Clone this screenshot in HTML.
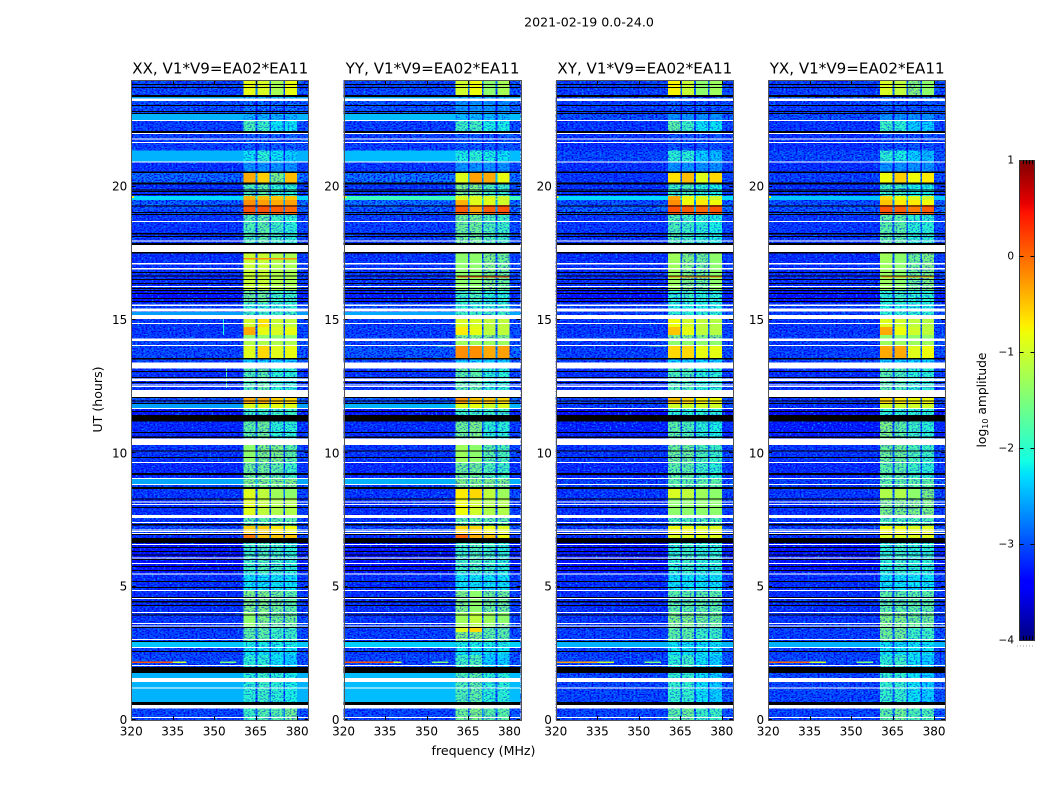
<!DOCTYPE html>
<html>
<head>
<meta charset="utf-8">
<title>2021-02-19 amplitude waterfall</title>
<style>
html,body{margin:0;padding:0;background:#fff;}
#chart{display:block;width:1050px;height:800px;}
text{font-family:"DejaVu Sans","Liberation Sans",sans-serif;fill:#000;}
</style>
</head>
<body>
<svg id="chart" width="1050" height="800" viewBox="0 0 1050 800" xmlns="http://www.w3.org/2000/svg">
<defs>
<filter id="speckle-light" x="0" y="0" width="100%" height="100%" color-interpolation-filters="sRGB">
<feTurbulence type="fractalNoise" baseFrequency="0.5 0.65" numOctaves="1" seed="4"/>
<feColorMatrix type="matrix" values="0 0 0 0 0  0 0 0 0 0.55  0 0 0 0 1  4.5 0 0 0 -2.25"/>
</filter>
<filter id="speckle-dark" x="0" y="0" width="100%" height="100%" color-interpolation-filters="sRGB">
<feTurbulence type="fractalNoise" baseFrequency="0.5 0.7" numOctaves="1" seed="11"/>
<feColorMatrix type="matrix" values="0 0 0 0 0  0 0 0 0 0  0 0 0 0 0.95  4 0 0 0 -1.8"/>
</filter>
</defs>
<g id="layer"></g>
</svg>
<script>
var panelTitles = ['XX','YY','XY','YX'];
var xTicks = [320,335,350,365,380];
var yTicks = [0,5,10,15,20];
var colorbarTicks = [1,0,-1,-2,-3,-4];
var freqEdges = [320,360.5,365,365.6,370,370.6,375,375.6,380,384];
var bandTop = [24,23.44,23.22,22.73,22.46,22.09,21.35,20.93,20.52,20.14,19.65,19.5,19.32,18.98,17.51,16.13,15.64,15.3,15.04,14.74,14.44,14.22,14.06,13.58,13.2,12.11,11.85,11.66,11.21,10.31,9.68,9.08,8.81,8.7,8.33,7.58,7.28,7.01,6.83,6.64,5.51,4.88,4.05,3.64,3.49,2.93,2.7,2.44,1.99,1.76,0.68,0.45];
var backgroundXX = [-2.95,-2.55,-2.9,-2.5,-3,-3,-2.5,-3.1,-2.75,-3.1,-2.3,-2.8,-2.9,-3.05,-3.1,-3.3,-3,-2.6,-3.05,-3.05,-3,-2.95,-2.95,-3,-3.1,-2.9,-2.6,-3.3,-3.15,-3.05,-3.15,-2.55,-2.95,-3.05,-3.1,-3.05,-2.95,-3.1,-3.1,-3.3,-3.1,-3.1,-3.05,-3.05,-3,-2.4,-3,-2.95,-3,-2.5,-3,-2.95];
var backgroundYY = [-2.95,-2.55,-2.85,-2.45,-3,-3,-2.45,-3.05,-2.7,-3.05,-1.9,-2.7,-2.85,-3,-3.05,-3.2,-2.9,-2.55,-3,-3,-3,-2.95,-2.85,-3,-3.05,-2.85,-2.5,-3.3,-3.1,-3.05,-3.15,-2.5,-2.95,-3.05,-3.1,-3.05,-2.95,-3.1,-3.1,-3.3,-3.1,-3.1,-3.05,-3.05,-3,-2.35,-3,-2.95,-3,-2.45,-3,-2.95];
var backgroundXY = [-3,-2.85,-3,-2.9,-3.05,-3.1,-2.95,-3.1,-3.05,-3.1,-2.3,-2.9,-2.8,-3.05,-3.1,-3.3,-3,-3,-3.05,-3.05,-3,-3,-3,-3,-3.1,-3,-3,-3.4,-3.2,-3.05,-3.15,-3,-3,-3.05,-3.1,-3.05,-3,-3.1,-3.1,-3.3,-3.1,-3.1,-3.05,-3.05,-3,-2.5,-3,-2.95,-3,-2.95,-3,-2.95];
var backgroundYX = [-3,-2.8,-3,-2.9,-3.05,-3.1,-2.95,-3.1,-3,-3.1,-2.4,-2.9,-2.85,-3.05,-3.1,-3.3,-3,-3,-3.05,-3.05,-3,-3,-3,-3,-3.1,-3.05,-3.1,-3.5,-3.25,-3.05,-3.15,-3,-3,-3.05,-3.1,-3.05,-3,-3.1,-3.1,-3.3,-3.1,-3.1,-3.05,-3.05,-3,-2.5,-3,-2.95,-3,-2.95,-3,-2.95];
var subbandXX = [[-.85,-.95,-1.25,-.85],[-2.45,-2.45,-2.45,-2.45],[-2.7,-2.7,-2.7,-2.7],[-2.45,-2.45,-2.45,-2.45],[-1.8,-1.9,-2.2,-2.2],[-2.8,-2.8,-2.8,-2.8],[-2.2,-2,-2.2,-2.3],[-2.6,-2.6,-2.6,-2.6],[-.35,-.55,-1.5,-.45],[-1.8,-1.7,-2,-2],[-.4,-.45,-.5,-.5],[-.2,-.3,-.35,-.3],[.1,.1,.05,0],[-1.8,-1.7,-1.9,-2],[-1.05,-1.05,-1.2,-1.25],[-1.6,-1.6,-1.9,-1.9],[-2,-2,-2,-2],[-1.9,-1.9,-1.9,-1.9],[-1,-.65,-1.05,-1.1],[-.35,-.85,-.95,-.85],[-1.4,-1.4,-1.4,-1.4],[-1.2,-1.2,-1.2,-1.2],[-.9,-.6,-.9,-.85],[-2.3,-2.3,-2.3,-2.3],[-1.8,-1.7,-2,-2],[-.35,-.35,-.55,-.6],[-.9,-.9,-.85,-.9],[-1.9,-1.9,-1.9,-1.9],[-1.7,-1.6,-2,-2],[-1.4,-1.5,-1.5,-1.7],[-1.6,-1.6,-1.7,-1.9],[-1.5,-1.5,-1.5,-1.5],[-1.5,-1.5,-1.5,-1.5],[-.9,-1.1,-1.3,-1.4],[-.9,-1.1,-1.2,-1.2],[-1.7,-1.7,-1.7,-1.7],[-.55,-.55,-.7,-.8],[-.1,-.5,-.5,-.5],[-.9,-.9,-.9,-.9],[-1.9,-1.8,-1.9,-2],[-2.2,-2.2,-2.2,-2.2],[-1.5,-1.5,-1.6,-1.7],[-1.4,-1.5,-1.6,-1.6],[-1.4,-1.5,-1.6,-1.6],[-1.7,-1.7,-1.9,-1.9],[-2.1,-2.1,-2.1,-2.1],[-2.2,-2.2,-2.2,-2.2],[-2,-2,-2.2,-2.3],[-2,-2,-2,-2],[-2,-1.9,-2,-2.1],[-2,-2,-2,-2],[-1.9,-1.75,-1.75,-1.6]];
var subbandYY = [[-1,-.8,-1.4,-1.25],[-2.45,-2.45,-2.45,-2.45],[-2.6,-2.6,-2.6,-2.6],[-2.4,-2.4,-2.4,-2.4],[-1.9,-1.85,-2.1,-2.1],[-2.8,-2.8,-2.8,-2.8],[-2.1,-2,-2.1,-2.2],[-2.6,-2.6,-2.6,-2.6],[-.9,-.3,-.35,-.85],[-1.5,-1.5,-1.8,-1.9],[-.9,-.9,-.9,-1],[-.4,-.9,-.9,-1],[.05,-.3,.05,.1],[-1.6,-1.6,-1.8,-1.9],[-1.4,-1.4,-1.5,-1.6],[-1.9,-1.8,-2,-2],[-2,-2,-2,-2],[-1.9,-1.9,-1.9,-1.9],[-.95,-.95,-1.1,-1.1],[-.7,-.85,-1.1,-1.1],[-1.5,-1.5,-1.5,-1.5],[-1.3,-1.3,-1.3,-1.3],[-.2,-.2,-.35,-.3],[-2.3,-2.3,-2.3,-2.3],[-1.7,-1.7,-2,-2],[-.25,-.5,-.5,-.6],[-.9,-.85,-1,-.9],[-1.9,-1.9,-1.9,-1.9],[-1.6,-1.5,-2,-2],[-1.3,-1.4,-1.7,-1.8],[-1.6,-1.6,-1.8,-1.9],[-1.5,-1.5,-1.5,-1.5],[-1.5,-1.5,-1.5,-1.5],[-.7,-.6,-1.1,-1.3],[-.8,-1,-1.2,-1.2],[-1.7,-1.7,-1.7,-1.7],[-.6,-.6,-.8,-.9],[0,-.4,-.5,-.8],[-.9,-.9,-.9,-.9],[-1.9,-1.8,-1.9,-2],[-2.2,-2.2,-2.2,-2.2],[-1.5,-1.4,-1.6,-1.6],[-1.3,-1.1,-1.3,-1.4],[-1.3,-1.2,-1.4,-1.5],[-1.5,-1.5,-1.7,-1.7],[-2.1,-2.1,-2.1,-2.1],[-2.2,-2.2,-2.2,-2.2],[-1.9,-1.8,-2.3,-2.3],[-2,-2,-2,-2],[-1.8,-1.7,-2,-2],[-2,-2,-2,-2],[-1.6,-1.5,-1.7,-1.7]];
var subbandXY = [[-.75,-1.05,-1.4,-1.3],[-2.7,-2.7,-2.7,-2.7],[-2.8,-2.8,-2.8,-2.8],[-2.6,-2.6,-2.6,-2.6],[-1.7,-1.9,-2.2,-2.2],[-2.85,-2.85,-2.85,-2.85],[-2,-2,-2.3,-2.4],[-2.6,-2.6,-2.6,-2.6],[-.65,-.45,-.9,-.6],[-1.9,-1.8,-2,-2.1],[-.35,-.8,-.9,-1],[-.2,-.8,-.7,-.8],[.12,.05,0,.1],[-1.8,-1.9,-2,-2.1],[-1.3,-1.5,-1.6,-1.4],[-2,-1.9,-2,-2],[-2.1,-2.1,-2.1,-2.1],[-2,-2,-2,-2],[-.8,-1,-1.1,-1.15],[-.5,-.85,-1.1,-1.15],[-1.5,-1.5,-1.5,-1.5],[-1.4,-1.4,-1.4,-1.4],[-.6,-.6,-.85,-.85],[-2.3,-2.3,-2.3,-2.3],[-1.8,-1.8,-2,-2],[-.5,-.6,-.75,-.8],[-1,-1,-1,-1],[-2,-2,-2,-2],[-1.7,-1.8,-2,-2.1],[-1.6,-1.6,-1.8,-1.9],[-1.7,-1.7,-1.9,-2],[-1.7,-1.7,-1.7,-1.7],[-1.7,-1.7,-1.7,-1.7],[-.95,-1.1,-1.3,-1.4],[-1.4,-1.4,-1.4,-1.4],[-1.8,-1.8,-1.8,-1.8],[-.8,-.8,-.9,-.9],[-.9,-.9,-.9,-.9],[-1,-1,-1,-1],[-2,-1.9,-2,-2],[-2.2,-2.2,-2.2,-2.2],[-1.7,-1.7,-1.7,-1.7],[-1.5,-1.5,-1.6,-1.6],[-1.5,-1.5,-1.6,-1.6],[-1.7,-1.7,-1.9,-1.9],[-2.2,-2.2,-2.2,-2.2],[-2.2,-2.2,-2.2,-2.2],[-2,-1.9,-2.2,-2.3],[-2,-2,-2,-2],[-1.95,-1.95,-2.2,-2.3],[-2,-2,-2,-2],[-1.7,-1.6,-1.9,-1.9]];
var subbandYX = [[-.95,-1.1,-1.45,-1.4],[-2.7,-2.7,-2.7,-2.7],[-2.8,-2.8,-2.8,-2.8],[-2.6,-2.6,-2.6,-2.6],[-1.9,-2,-2.3,-2.3],[-2.85,-2.85,-2.85,-2.85],[-2,-2.1,-2.3,-2.4],[-2.6,-2.6,-2.6,-2.6],[-.8,-.55,-.8,-.7],[-1.9,-1.9,-2.1,-2.1],[-.6,-.8,-.9,-1],[-.5,-.7,-.7,-.8],[.1,.05,-.1,.05],[-1.7,-1.7,-2,-2],[-1.3,-1.4,-1.6,-1.5],[-2,-1.9,-2,-2],[-2.1,-2.1,-2.1,-2.1],[-2,-2,-2,-2],[-.9,-1,-1.1,-1.15],[-.35,-.8,-1,-1.1],[-1.4,-1.4,-1.4,-1.4],[-1.3,-1.3,-1.3,-1.3],[-.35,-.35,-.9,-.8],[-2.3,-2.3,-2.3,-2.3],[-1.7,-1.8,-2,-2],[-.6,-.7,-.8,-.8],[-1,-1,-1,-1],[-2,-2,-2,-2],[-1.5,-1.7,-1.9,-2],[-1.6,-1.6,-1.8,-1.9],[-1.7,-1.7,-1.9,-2],[-1.7,-1.7,-1.7,-1.7],[-1.7,-1.7,-1.7,-1.7],[-1.2,-1.2,-1.4,-1.5],[-1.5,-1.5,-1.5,-1.5],[-1.8,-1.8,-1.8,-1.8],[-.8,-.8,-.9,-.9],[-.9,-.9,-.9,-.9],[-1,-1,-1,-1],[-2,-1.9,-2,-2],[-2.2,-2.2,-2.2,-2.2],[-1.7,-1.7,-1.7,-1.7],[-1.5,-1.5,-1.6,-1.6],[-1.5,-1.5,-1.6,-1.6],[-1.6,-1.6,-1.9,-1.9],[-2.2,-2.2,-2.2,-2.2],[-2.2,-2.2,-2.2,-2.2],[-2,-1.9,-2.2,-2.3],[-2,-2,-2,-2],[-1.95,-1.95,-2.2,-2.3],[-2,-2,-2,-2],[-1.7,-1.6,-1.8,-1.8]];
var whiteFlagLow = [23.22,22.46,21.99,21.77,21.64,20.9,18.68,17.96,17.55,17.08,16.89,16.24,15.53,15.31,15.04,14.85,14.22,14.04,13.19,12.72,12.56,12.49,12.12,11.66,10.31,9.64,9.04,8.81,8.15,8.06,7.58,7.39,7.11,7.05,6.99,6.56,6.06,5.85,5.45,4.84,4.54,4.01,3.6,3.51,3,2.7,2.03,1.43,1.2,0.44,0.08];
var whiteFlagHigh = [23.3,22.5,22.02,21.8,21.68,20.94,18.71,17.99,17.81,17.14,16.95,16.28,15.59,15.44,15.19,14.89,14.31,14.06,13.4,12.81,12.59,12.53,12.38,11.7,10.56,9.68,9.08,8.85,8.19,8.1,7.69,7.43,7.14,7.09,7.01,6.6,6.09,5.89,5.49,4.88,4.58,4.05,3.64,3.54,3.04,2.74,2.06,1.58,1.22,0.56,0.11];
var blackFlagLow = [23.81,23.7,23.37,23.05,22.8,22.73,22.02,20.52,20.09,19.88,19.8,19.69,19.28,19.01,18.93,18.21,18.11,17.81,17.49,16.76,16.63,16.5,16.35,16.16,16.09,15.98,15.79,15.68,13.52,13.05,12.83,12.64,12.08,11.96,11.85,11.55,11.19,10.76,10.58,10.09,9.83,9.18,8.66,8.26,7.95,7.29,6.96,6.64,6.45,6.3,6.19,6,5.74,5.59,5.18,4.97,4.58,4.41,4.28,3.92,3.45,2.93,2.55,1.76,0.56];
var blackFlagHigh = [23.85,23.74,23.44,23.07,22.84,22.76,22.09,20.56,20.15,19.89,19.84,19.73,19.3,19.05,18.98,18.26,18.15,17.89,17.55,16.8,16.67,16.54,16.39,16.2,16.13,16.01,15.83,15.71,13.58,13.09,12.86,12.68,12.11,11.98,11.89,11.59,11.44,10.8,10.63,10.11,9.86,9.26,8.74,8.31,7.99,7.35,6.98,6.83,6.49,6.34,6.21,6.04,5.78,5.63,5.21,4.99,4.61,4.46,4.31,3.96,3.49,2.96,2.59,1.99,0.68];
var rfiPanel = [0,0,1,1,2,2,3,3,0,1,2,3,0,0,0,1,2,3,0,1,2,3,1,2,1,1];
var rfiHourLow = [2.14,2.14,2.14,2.14,2.14,2.14,2.14,2.14,2.14,2.14,2.14,2.14,12.45,19.58,17.27,19.58,19.58,19.58,14.44,16.6,16.6,16.6,14.0,14.0,3.3,3.3];
var rfiHourHigh = [2.19,2.19,2.19,2.19,2.19,2.19,2.19,2.19,2.19,2.19,2.19,2.19,13.2,19.65,17.32,19.65,19.65,19.65,15.04,16.65,16.65,16.65,14.04,14.04,3.49,3.49];
var rfiFreqLow = [320,335,320.5,338,320,335,320,335,352,352,352,352,354.3,320,360.5,320,320,320,353.2,361,361,361,354,354,360.5,365.6];
var rfiFreqHigh = [335,340,338,341,335,341,338,341,358,358,358,358,354.7,321,380,321,321,321,353.6,380,380,380,360,360,365,370];
var rfiLevel = [.1,-1,.1,-1,-.3,-1,0,-1,-1.5,-1.5,-1.5,-1.5,-1.8,-.7,-.2,-.7,-.7,-.7,-2.1,.1,-.2,-.3,-1.6,-1.6,-.9,-.6];
var panelBackgrounds = [backgroundXX, backgroundYY, backgroundXY, backgroundYX];
var panelSubbands = [subbandXX, subbandYY, subbandXY, subbandYX];

var SVGNS = 'http://www.w3.org/2000/svg';
var layer = document.getElementById('layer');
var panelWidth = 177, panelStep = 212.3, panelLeft0 = 131.25, plotTop = 80, plotBottom = 720;
function panelLeft(i){ return panelLeft0 + i * panelStep; }
function xScale(i, f){ return panelLeft(i) + (f - 320) / 64 * panelWidth; }
function yScale(h){ return plotBottom - h / 24 * (plotBottom - plotTop); }
function colorScale(v){ return 640 - (v + 4) / 5 * 480; }
function ramp(x){ return Math.max(0, Math.min(1, x)); }
function interp(t, stops){
  for (var i = 1; i < stops.length; i++) {
    if (t <= stops[i][0]) {
      var a = stops[i - 1], b = stops[i];
      return a[1] + (b[1] - a[1]) * (t - a[0]) / (b[0] - a[0]);
    }
  }
  return stops[stops.length - 1][1];
}
var jetRed = [[0,0],[.35,0],[.66,1],[.89,1],[1,.5]];
var jetGreen = [[0,0],[.125,0],[.375,1],[.64,1],[.91,0],[1,0]];
var jetBlue = [[0,.5],[.11,1],[.34,1],[.65,0],[1,0]];
function jet(v){
  var t = ramp((v + 4) / 5);
  return 'rgb(' + Math.round(interp(t, jetRed) * 255) + ',' + Math.round(interp(t, jetGreen) * 255) + ',' + Math.round(interp(t, jetBlue) * 255) + ')';
}
function addRect(parent, x, y, w, h, fill, name){
  var el = document.createElementNS(SVGNS, 'rect');
  el.setAttribute('x', x);
  el.setAttribute('y', y);
  el.setAttribute('width', w);
  el.setAttribute('height', h);
  el.setAttribute('fill', fill);
  el.setAttribute('shape-rendering', 'crispEdges');
  
  
  parent.appendChild(el);
  return el;
}
function addLine(parent, x1, y1, x2, y2, stroke, name){
  var el = document.createElementNS(SVGNS, 'line');
  el.setAttribute('x1', x1);
  el.setAttribute('y1', y1);
  el.setAttribute('x2', x2);
  el.setAttribute('y2', y2);
  el.setAttribute('stroke', stroke);
  el.setAttribute('stroke-width', '1');
  el.setAttribute('shape-rendering', 'crispEdges');
  
  
  parent.appendChild(el);
  return el;
}
function addText(parent, x, y, str, size, anchor, name, rotate){
  var el = document.createElementNS(SVGNS, 'text');
  el.setAttribute('x', x);
  el.setAttribute('y', y);
  el.setAttribute('font-size', size);
  el.setAttribute('text-anchor', anchor);
  if (rotate) { el.setAttribute('transform', 'rotate(-90 ' + x + ' ' + y + ')'); }
  el.textContent = str;
  
  
  parent.appendChild(el);
  return el;
}
function addGroup(parent, name){
  var el = document.createElementNS(SVGNS, 'g');
  
  
  parent.appendChild(el);
  return el;
}
function bandSegmentLevel(p, b, s){
  var bg = panelBackgrounds[p][b];
  var sb = panelSubbands[p][b];
  if (s === 0) { return bg; }
  if (s === 8) { return bg < -2.7 ? bg + 0.1 : bg; }
  if (s % 2 === 1) { return sb[(s - 1) / 2]; }
  return Math.min(bg + 0.3, sb[s / 2 - 1] - 0.8);
}
function addSpeckle(parent, x0, name, filterId, opacity){
  var el = addRect(parent, x0, plotTop, panelWidth, plotBottom - plotTop, '#000', name);
  el.setAttribute('filter', 'url(#' + filterId + ')');
  el.setAttribute('opacity', opacity);
  return el;
}
function drawPanel(p){
  var g = addGroup(layer, 'panel-' + panelTitles[p].toLowerCase());
  var x0 = panelLeft(p);
  var low = addGroup(g, 'heatmap-low-cells');
  var speckleLow = addGroup(g, 'heatmap-texture-low');
  var mid = addGroup(g, 'heatmap-mid-cells');
  var speckleMid = addGroup(g, 'heatmap-texture-mid');
  var high = addGroup(g, 'heatmap-high-cells');
  var marks = addGroup(g, 'rfi-marks');
  var flags = addGroup(g, 'flagged-rows');
  for (var b = 0; b < bandTop.length; b++) {
    var yTop = yScale(bandTop[b]);
    var yBot = yScale(b + 1 < bandTop.length ? bandTop[b + 1] : 0);
    for (var s = 0; s < freqEdges.length - 1; s++) {
      var level = bandSegmentLevel(p, b, s);
      var xa = xScale(p, freqEdges[s]);
      var xb = xScale(p, freqEdges[s + 1]);
      var isEdgeSegment = (s === 0 || s === 8);
      var target = low;
      if (level > -1.45 || (isEdgeSegment && level > -2.65)) { target = high; }
      else if (level > -2.65) { target = mid; }
      addRect(target, xa, yTop, xb - xa, yBot - yTop, jet(level), 'heatmap-cell');
    }
  }
  addSpeckle(speckleLow, x0, 'speckle-light', 'speckle-light', 1);
  addSpeckle(speckleLow, x0, 'speckle-dark', 'speckle-dark', 1);
  addSpeckle(speckleMid, x0, 'speckle-mid', 'speckle-dark', 0.55);
  for (var r = 0; r < rfiPanel.length; r++) {
    if (rfiPanel[r] !== p) { continue; }
    var rx = xScale(p, rfiFreqLow[r]);
    var ry = yScale(rfiHourHigh[r]);
    addRect(marks, rx, ry, Math.max(1, xScale(p, rfiFreqHigh[r]) - rx), Math.max(1, yScale(rfiHourLow[r]) - ry), jet(rfiLevel[r]), 'rfi-mark');
  }
  for (var k = 0; k < blackFlagLow.length; k++) {
    var ky = yScale(blackFlagHigh[k]);
    addRect(flags, x0, ky, panelWidth, Math.max(1, yScale(blackFlagLow[k]) - ky), '#000', 'black-flag-row');
  }
  for (var w = 0; w < whiteFlagLow.length; w++) {
    var wy = yScale(whiteFlagHigh[w]);
    addRect(flags, x0, wy, panelWidth, Math.max(1, yScale(whiteFlagLow[w]) - wy), '#fff', 'white-flag-row');
  }
  var axes = addGroup(g, 'panel-axes');
  for (var i = 0; i < xTicks.length; i++) {
    var tx = Math.round(xScale(p, xTicks[i])) + 0.5;
    addLine(axes, tx, plotBottom, tx, plotBottom - 4, '#000', 'x-tick');
    addLine(axes, tx, plotTop, tx, plotTop + 4, '#000', 'x-tick');
    addText(axes, xScale(p, xTicks[i]), plotBottom + 15.5, String(xTicks[i]), 12, 'middle', 'x-tick-label');
  }
  for (var j = 0; j < yTicks.length; j++) {
    var ty = Math.round(yScale(yTicks[j])) - 0.5;
    addLine(axes, x0, ty, x0 + 4, ty, '#000', 'y-tick');
    addLine(axes, x0 + panelWidth, ty, x0 + panelWidth - 4, ty, '#000', 'y-tick');
    addText(axes, x0 - 4, yScale(yTicks[j]) + 4, String(yTicks[j]), 12, 'end', 'y-tick-label');
  }
  var frame = addRect(axes, Math.round(x0) + 0.5, plotTop + 0.5, panelWidth, plotBottom - plotTop, 'none', 'panel-frame');
  frame.setAttribute('stroke', '#555');
  addText(g, x0 + panelWidth / 2 + 0.5, 73.5, panelTitles[p] + ', V1*V9=EA02*EA11', 15.1, 'middle', 'panel-title');
}
for (var p = 0; p < panelTitles.length; p++) { drawPanel(p); }

addText(layer, 589, 26.5, '2021-02-19 0.0-24.0', 12.6, 'middle', 'figure-title');
addText(layer, 483.5, 755, 'frequency (MHz)', 12.6, 'middle', 'x-axis-title');
addText(layer, 102, 399.5, 'UT (hours)', 12.6, 'middle', 'y-axis-title', true);

var cbar = addGroup(layer, 'colorbar');
var cbarLeft = 1019.5, cbarWidth = 15;
for (var cy = 160; cy < 640; cy++) {
  addRect(cbar, cbarLeft, cy, cbarWidth, 1, jet(1 - (cy - 160) / 480 * 5), 'colorbar-step');
}
var cbarFrame = addRect(cbar, cbarLeft, 160.5, cbarWidth, 480, 'none', 'colorbar-frame');
cbarFrame.setAttribute('stroke', '#333');
for (var c = 0; c < colorbarTicks.length; c++) {
  var cv = colorbarTicks[c];
  var cpy = colorScale(cv);
  if (cv > -4 && cv < 1) {
    addLine(cbar, cbarLeft, cpy + 0.5, cbarLeft + 4, cpy + 0.5, '#000', 'colorbar-tick');
    addLine(cbar, cbarLeft + cbarWidth, cpy + 0.5, cbarLeft + cbarWidth - 4, cpy + 0.5, '#000', 'colorbar-tick');
  } else {
    for (var m = 1; m < 5; m++) {
      var mx = Math.round(cbarLeft + m * cbarWidth / 5) + 0.5;
      var my = cv === 1 ? 160 : 636;
      addLine(cbar, mx, my, mx, my + 4, '#000', 'colorbar-end-tick');
    }
  }
  addText(cbar, 1014, cpy + 3.5, String(cv).replace('-', '\u2212'), 10.5, 'end', 'colorbar-tick-label');
}
var dots = addLine(cbar, 1017, 646, 1035, 646, '#999', 'colorbar-minor-dots');
dots.setAttribute('stroke-dasharray', '1 2');
var cbarLabel = addText(cbar, 986, 400, 'log', 12.3, 'middle', 'colorbar-label', true);
var sub = document.createElementNS(SVGNS, 'tspan');
sub.setAttribute('font-size', '8');
sub.setAttribute('dy', '2');
sub.textContent = '10';


cbarLabel.appendChild(sub);
var rest = document.createElementNS(SVGNS, 'tspan');
rest.setAttribute('dy', '-2');
rest.textContent = ' amplitude';


cbarLabel.appendChild(rest);
</script>
</body>
</html>
